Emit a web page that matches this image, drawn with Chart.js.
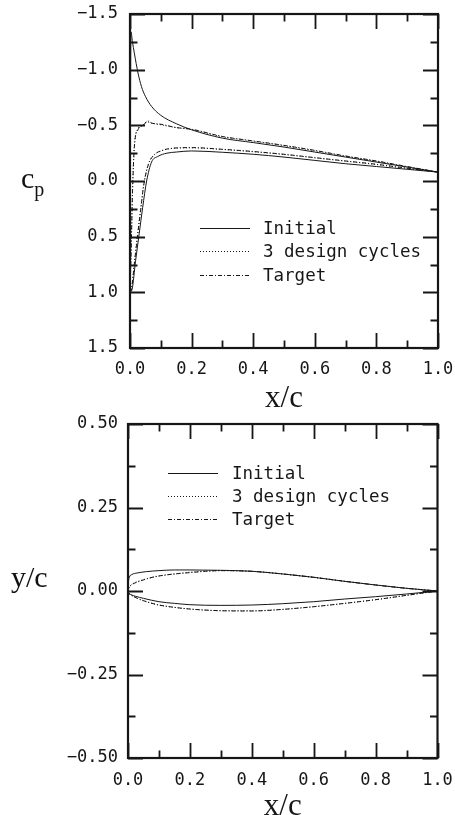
<!DOCTYPE html>
<html>
<head>
<meta charset="utf-8">
<script src="https://cdn.jsdelivr.net/npm/chart.js@4"></script>
<style>
  html, body { margin: 0; padding: 0; background: #fff; }
  #wrap { position: relative; width: 455px; height: 815px; overflow: hidden; }
  canvas { position: absolute; left: 0; }
  .ylab { position: absolute; font-family: "Liberation Serif", serif; font-size: 30px; line-height: 1; color: #111; }
  .ylab sub { font-size: 20px; vertical-align: -8px; line-height: 1; }
</style>
</head>
<body>
<div id="wrap">
  <canvas id="cpChart" width="455" height="410" style="top:0"></canvas>
  <canvas id="shapeChart" width="455" height="405" style="top:410px"></canvas>
  <div class="ylab" style="left:21px;top:163px">c<sub>p</sub></div>
  <div class="ylab" style="left:11px;top:562px">y/c</div>
</div>
<script>
  "use strict";

  // axes
  const xMajorTicks = [0, 0.2, 0.4, 0.6, 0.8, 1.0];
  const xMinorTicks = [0.1, 0.3, 0.5, 0.7, 0.9];
  const xTickLabels = ["0.0", "0.2", "0.4", "0.6", "0.8", "1.0"];
  const cpMajorTicks = [-1.5, -1.0, -0.5, 0, 0.5, 1.0, 1.5];
  const cpMinorTicks = [-1.25, -0.75, -0.25, 0.25, 0.75, 1.25];
  const cpTickLabels = ["\u22121.5", "\u22121.0", "\u22120.5", "0.0", "0.5", "1.0", "1.5"];
  const ycMajorTicks = [-0.5, -0.25, 0, 0.25, 0.5];
  const ycMinorTicks = [-0.375, -0.125, 0.125, 0.375];
  const ycTickLabels = ["\u22120.50", "\u22120.25", "0.00", "0.25", "0.50"];
  const seriesNames = ["Initial", "3 design cycles", "Target"];

  // pressure coefficient, upper (suction) surface
  const cpInitialUpperX = [0, 0.003, 0.008, 0.014, 0.026, 0.037, 0.05, 0.07, 0.1, 0.15, 0.2, 0.3, 0.4, 0.5, 0.6, 0.7, 0.8, 0.9, 1.0];
  const cpInitialUpper = [1.0, -1.34, -1.25, -1.15, -0.97, -0.85, -0.76, -0.67, -0.59, -0.515, -0.46, -0.385, -0.345, -0.305, -0.26, -0.215, -0.17, -0.125, -0.08];
  const cpTargetUpperX = [0, 0.004, 0.008, 0.014, 0.026, 0.043, 0.057, 0.07, 0.1, 0.15, 0.2, 0.3, 0.4, 0.5, 0.6, 0.7, 0.8, 0.9, 1.0];
  const cpDesignUpper = [1.0, 0.58, 0.1, -0.31, -0.47, -0.505, -0.53, -0.52, -0.505, -0.48, -0.462, -0.398, -0.358, -0.318, -0.272, -0.222, -0.178, -0.128, -0.08];
  const cpTargetUpper = [1.0, 0.6, 0.12, -0.3, -0.46, -0.5, -0.54, -0.52, -0.51, -0.48, -0.465, -0.4, -0.36, -0.32, -0.275, -0.225, -0.18, -0.13, -0.08];

  // pressure coefficient, lower surface
  const cpInitialLowerX = [0, 0.007, 0.018, 0.03, 0.041, 0.054, 0.07, 0.09, 0.12, 0.15, 0.2, 0.3, 0.4, 0.5, 0.6, 0.7, 0.8, 0.9, 1.0];
  const cpInitialLower = [1.0, 0.97, 0.72, 0.47, 0.24, 0.0, -0.17, -0.22, -0.25, -0.26, -0.27, -0.258, -0.24, -0.215, -0.185, -0.155, -0.13, -0.105, -0.08];
  const cpTargetLowerX = [0, 0.005, 0.015, 0.025, 0.035, 0.045, 0.06, 0.08, 0.1, 0.125, 0.2, 0.3, 0.4, 0.5, 0.6, 0.7, 0.8, 0.9, 1.0];
  const cpDesignLower = [1.0, 0.965, 0.71, 0.47, 0.245, 0.025, -0.155, -0.238, -0.268, -0.288, -0.298, -0.283, -0.263, -0.238, -0.208, -0.178, -0.148, -0.113, -0.08];
  const cpTargetLower = [1.0, 0.97, 0.72, 0.48, 0.25, 0.03, -0.15, -0.24, -0.27, -0.29, -0.30, -0.285, -0.265, -0.24, -0.21, -0.18, -0.15, -0.115, -0.08];

  // airfoil shape y/c
  const yInitialUpperX = [0, 0.001, 0.004, 0.012, 0.03, 0.06, 0.1, 0.15, 0.2, 0.3, 0.4, 0.5, 0.6, 0.7, 0.8, 0.9, 1.0];
  const yInitialUpper = [0, 0.022, 0.04, 0.049, 0.054, 0.058, 0.061, 0.063, 0.063, 0.062, 0.059, 0.051, 0.041, 0.029, 0.018, 0.008, 0];
  const yInitialLowerX = [0, 0.002, 0.01, 0.025, 0.05, 0.1, 0.15, 0.2, 0.3, 0.4, 0.5, 0.6, 0.7, 0.8, 0.9, 1.0];
  const yInitialLower = [0, -0.005, -0.011, -0.016, -0.022, -0.032, -0.037, -0.041, -0.043, -0.042, -0.038, -0.032, -0.024, -0.017, -0.009, 0];
  const yTargetUpperX = [0, 0.002, 0.008, 0.02, 0.04, 0.07, 0.1, 0.15, 0.2, 0.25, 0.3, 0.4, 0.5, 0.6, 0.7, 0.8, 0.9, 1.0];
  const yDesignUpper = [0, 0.008, 0.016, 0.024, 0.031, 0.039, 0.045, 0.051, 0.056, 0.059, 0.061, 0.059, 0.051, 0.041, 0.029, 0.018, 0.008, 0];
  const yTargetUpper = [0, 0.008, 0.016, 0.023, 0.03, 0.039, 0.045, 0.051, 0.055, 0.059, 0.061, 0.059, 0.051, 0.041, 0.029, 0.018, 0.008, 0];
  const yTargetLowerX = [0, 0.002, 0.012, 0.03, 0.05, 0.07, 0.1, 0.15, 0.2, 0.3, 0.4, 0.5, 0.6, 0.7, 0.8, 0.9, 1.0];
  const yDesignLower = [0, -0.006, -0.013, -0.022, -0.029, -0.035, -0.042, -0.049, -0.054, -0.059, -0.059, -0.055, -0.047, -0.037, -0.026, -0.013, 0];
  const yTargetLower = [0, -0.006, -0.013, -0.022, -0.029, -0.035, -0.042, -0.049, -0.054, -0.059, -0.06, -0.055, -0.047, -0.037, -0.026, -0.013, 0];

  const INK = "#161616";
  const dashes = [[], [1, 2], [4, 2, 1, 2]];
  Chart.defaults.font.family = "'DejaVu Sans Mono', monospace";
  Chart.defaults.color = INK;

  function pts(xs, ys) {
    return xs.map((x, i) => ({ x: x, y: ys[i] }));
  }

  function line(series, xs, ys, legend) {
    return {
      label: seriesNames[series],
      legend: legend,
      data: pts(xs, ys),
      showLine: true,
      borderColor: INK,
      borderWidth: 1,
      borderDash: dashes[series],
      pointRadius: 0,
      cubicInterpolationMode: "monotone",
    };
  }

  // frame with inward ticks on all four sides
  const frameTicks = {
    id: "frameTicks",
    afterDatasetsDraw(chart, args, o) {
      const { ctx, chartArea: a, scales } = chart;
      const sx = scales.x, sy = scales.y;
      ctx.save();
      ctx.strokeStyle = INK;
      ctx.setLineDash([]);
      ctx.lineWidth = 1.8;
      ctx.beginPath();
      const vert = (vals, len) => vals.forEach((v) => {
        const p = Math.round(sx.getPixelForValue(v)) + 0.5;
        ctx.moveTo(p, a.bottom); ctx.lineTo(p, a.bottom - len);
        ctx.moveTo(p, a.top); ctx.lineTo(p, a.top + len);
      });
      const horz = (vals, len) => vals.forEach((v) => {
        const p = Math.round(sy.getPixelForValue(v)) + 0.5;
        ctx.moveTo(a.left, p); ctx.lineTo(a.left + len, p);
        ctx.moveTo(a.right, p); ctx.lineTo(a.right - len, p);
      });
      vert(xMajorTicks, 15); vert(xMinorTicks, 7.5);
      horz(o.major, 15); horz(o.minor, 7.5);
      ctx.stroke();
      ctx.lineWidth = 2.2;
      ctx.strokeRect(a.left, a.top, a.right - a.left, a.bottom - a.top);
      ctx.restore();
    },
  };

  // legend drawn inside the plot area
  const insideLegend = {
    id: "insideLegend",
    afterDraw(chart, args, o) {
      const { ctx, chartArea: a } = chart;
      ctx.save();
      ctx.font = "17.5px 'DejaVu Sans Mono', monospace";
      ctx.fillStyle = INK;
      ctx.strokeStyle = INK;
      ctx.lineWidth = 1;
      ctx.textBaseline = "middle";
      chart.data.datasets.filter((d) => d.legend).forEach((d, i) => {
        const y = Math.round(a.top + o.top + i * o.rowGap) + 0.5;
        const x0 = a.left + o.left;
        ctx.setLineDash(d.borderDash);
        ctx.beginPath();
        ctx.moveTo(x0, y);
        ctx.lineTo(x0 + o.lineLen, y);
        ctx.stroke();
        ctx.setLineDash([]);
        ctx.fillText(d.label, x0 + o.lineLen + o.gap, y + 1);
      });
      ctx.restore();
    },
  };

  // label offsets go through tickLength (grid hidden) so that the scale
  // does not widen the chart padding the way ticks.padding does
  function xAxis(height, labelGap, titlePad) {
    return {
      type: "linear", min: 0, max: 1,
      afterBuildTicks: (s) => { s.ticks = xMajorTicks.map((v) => ({ value: v })); },
      afterFit: (s) => { s.height = height; },
      grid: { display: false, drawTicks: true, tickLength: labelGap },
      border: { display: false },
      ticks: {
        padding: 0, autoSkip: false, maxRotation: 0,
        font: { size: 17 },
        callback: (v) => xTickLabels[xMajorTicks.indexOf(v)],
      },
      title: {
        display: true, text: "x/c",
        font: { family: "'Liberation Serif', serif", size: 31, lineHeight: 1 },
        padding: { top: 0, bottom: titlePad },
      },
    };
  }

  function yAxis(width, min, max, reverse, major, labels, labelGap) {
    return {
      type: "linear", min: min, max: max, reverse: reverse,
      afterBuildTicks: (s) => { s.ticks = major.map((v) => ({ value: v })); },
      afterFit: (s) => { s.width = width; },
      grid: { display: false, drawTicks: true, tickLength: labelGap },
      border: { display: false },
      ticks: {
        padding: 0, autoSkip: false,
        font: { size: 17 },
        callback: (v) => labels[major.indexOf(v)],
      },
    };
  }

  new Chart(document.getElementById("cpChart"), {
    type: "scatter",
    data: {
      datasets: [
        line(0, cpInitialUpperX, cpInitialUpper, true),
        line(1, cpTargetUpperX, cpDesignUpper, true),
        line(2, cpTargetUpperX, cpTargetUpper, true),
        line(0, cpInitialLowerX, cpInitialLower, false),
        line(1, cpTargetLowerX, cpDesignLower, false),
        line(2, cpTargetLowerX, cpTargetLower, false),
      ],
    },
    options: {
      responsive: false,
      animation: false,
      layout: { padding: { top: 14, right: 17, left: 0, bottom: 0 } },
      scales: {
        x: xAxis(62, 11, -4),
        y: yAxis(130, -1.5, 1.5, true, cpMajorTicks, cpTickLabels, 12),
      },
      plugins: {
        legend: { display: false },
        tooltip: { enabled: false },
        frameTicks: { major: cpMajorTicks, minor: cpMinorTicks },
        insideLegend: { left: 70, top: 214, rowGap: 23.3, lineLen: 50, gap: 13 },
      },
    },
    plugins: [frameTicks, insideLegend],
  });

  new Chart(document.getElementById("shapeChart"), {
    type: "scatter",
    data: {
      datasets: [
        line(0, yInitialUpperX, yInitialUpper, true),
        line(1, yTargetUpperX, yDesignUpper, true),
        line(2, yTargetUpperX, yTargetUpper, true),
        line(0, yInitialLowerX, yInitialLower, false),
        line(1, yTargetLowerX, yDesignLower, false),
        line(2, yTargetLowerX, yTargetLower, false),
      ],
    },
    options: {
      responsive: false,
      animation: false,
      layout: { padding: { top: 14, right: 17.5, left: 0, bottom: 0 } },
      scales: {
        x: xAxis(57, 12.6, -7),
        y: yAxis(128, -0.5, 0.5, false, ycMajorTicks, ycTickLabels, 10),
      },
      plugins: {
        legend: { display: false },
        tooltip: { enabled: false },
        frameTicks: { major: ycMajorTicks, minor: ycMinorTicks },
        insideLegend: { left: 40, top: 48.7, rowGap: 23.3, lineLen: 50, gap: 14 },
      },
    },
    plugins: [frameTicks, insideLegend],
  });
</script>
</body>
</html>
